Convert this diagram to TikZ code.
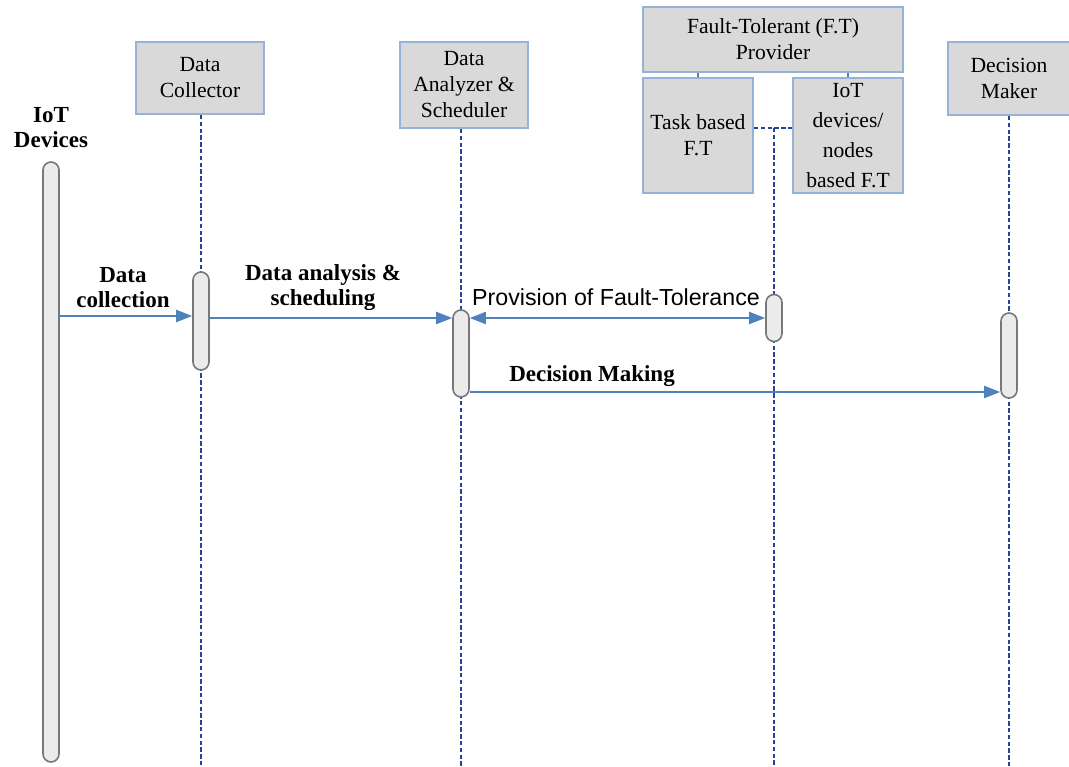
\documentclass[tikz,border=0pt]{standalone}
\usepackage{fontspec}
\setmainfont{Liberation Serif}
\setsansfont{Liberation Sans}
\usetikzlibrary{arrows.meta}

\definecolor{boxgray}{RGB}{217,217,217}
\definecolor{boxblue}{RGB}{149,179,215}
\definecolor{lifeblue}{RGB}{38,68,150}
\definecolor{msgblue}{RGB}{79,129,189}
\definecolor{bargray}{RGB}{120,120,120}
\definecolor{barfill}{RGB}{235,235,235}

\begin{document}
\begin{tikzpicture}[x=0.5pt, y=-0.5pt,
  actor/.style={draw=boxblue, fill=boxgray, line width=1pt, align=center, inner sep=0pt, font=\fontsize{10.8}{13}\selectfont},
  lifeline/.style={draw=lifeblue, line width=0.7pt, dash pattern=on 2.2pt off 1.2pt},
  activation/.style={draw=bargray, fill=barfill, line width=0.8pt, rounded corners=4pt, minimum width=8pt, inner sep=0pt},
  msg/.style={draw=msgblue, line width=1pt, -{Triangle[length=8pt,width=6pt]}},
  lbl/.style={align=center, font=\bfseries\fontsize{11.5}{12.5}\selectfont}]

 \useasboundingbox (0,0) rectangle (1069,766);
 \coordinate (bot) at (0,766);

 % Participants
 \node[lbl] (iotlabel) at (51,127.5) {IoT\\Devices};
 \node[actor, minimum width=64pt, minimum height=36pt] (collector) at (200,78) {Data\\Collector};
 \node[actor, minimum width=64pt, minimum height=43pt] (analyzer) at (464,85) {Data\\Analyzer \&\\Scheduler};
 \node[actor, minimum width=130pt, minimum height=32.5pt] (ftprov) at (773,39.5) {Fault-Tolerant (F.T)\\Provider};
 \node[actor, minimum width=55pt, minimum height=57.5pt] (task) at (698,135.5) {Task based\\F.T};
 \node[actor, minimum width=55pt, minimum height=57.5pt, font=\fontsize{10.8}{15}\selectfont] (iotft) at (848,135.5) {IoT\\devices/\\nodes\\based F.T};
 \node[actor, minimum width=61pt, minimum height=36.5pt] (decision) at (1009,78.5) {Decision\\Maker};

 % Sub-boxes of the F.T provider
 \draw[msgblue, line width=0.8pt] (task.north) -- (task.north |- ftprov.south);
 \draw[msgblue, line width=0.8pt] (iotft.north) -- (iotft.north |- ftprov.south);
 \coordinate (ftjoin) at (774,128);

 % Activation bars (placed first as coordinates for the lifelines)
 \path (51,462) coordinate (iotx) (201,321) coordinate (colx) (461,353.5) coordinate (anax)
       (774,318) coordinate (ftx) (1009,355.5) coordinate (decx);

 % Lifelines
 \draw[lifeline] (colx |- collector.south) -- (colx |- bot);
 \draw[lifeline] (anax |- analyzer.south) -- (anax |- bot);
 \draw[lifeline] (task.east |- ftjoin) -- (iotft.west |- ftjoin);
 \draw[lifeline] (ftjoin) -- (ftjoin |- bot);
 \draw[lifeline] (decx |- decision.south) -- (decx |- bot);

 \node[activation, minimum height=300pt] (iotbar) at (iotx) {};
 \node[activation, minimum height=49pt] (colbar) at (colx) {};
 \node[activation, minimum height=43.5pt] (anabar) at (anax) {};
 \node[activation, minimum height=23.5pt] (ftbar) at (ftx) {};
 \node[activation, minimum height=42.5pt] (decbar) at (decx) {};

 % Messages
 \coordinate (m1) at (0,316);
 \coordinate (m2) at (0,318);
 \coordinate (m3) at (0,392);
 \draw[msg] (iotbar.east |- m1) -- (colbar.west |- m1);
 \draw[msg] (colbar.east |- m2) -- (anabar.west |- m2);
 \draw[msg, {Triangle[length=8pt,width=6pt]}-{Triangle[length=8pt,width=6pt]}] (anabar.east |- m2) -- (ftbar.west |- m2);
 \draw[msg] (anabar.east |- m3) -- (decbar.west |- m3);

 % Message labels
 \node[lbl] (lblcollect) at (123,287.5) {Data\\collection};
 \node[lbl] (lblanalysis) at (323,287.5) {Data analysis \&\\scheduling};
 \node[font=\sffamily\fontsize{11.6}{13}\selectfont] (lblft) at (616,297) {Provision of Fault-Tolerance};
 \node[lbl] (lbldecision) at (592,376) {Decision Making};

\end{tikzpicture}
\end{document}
